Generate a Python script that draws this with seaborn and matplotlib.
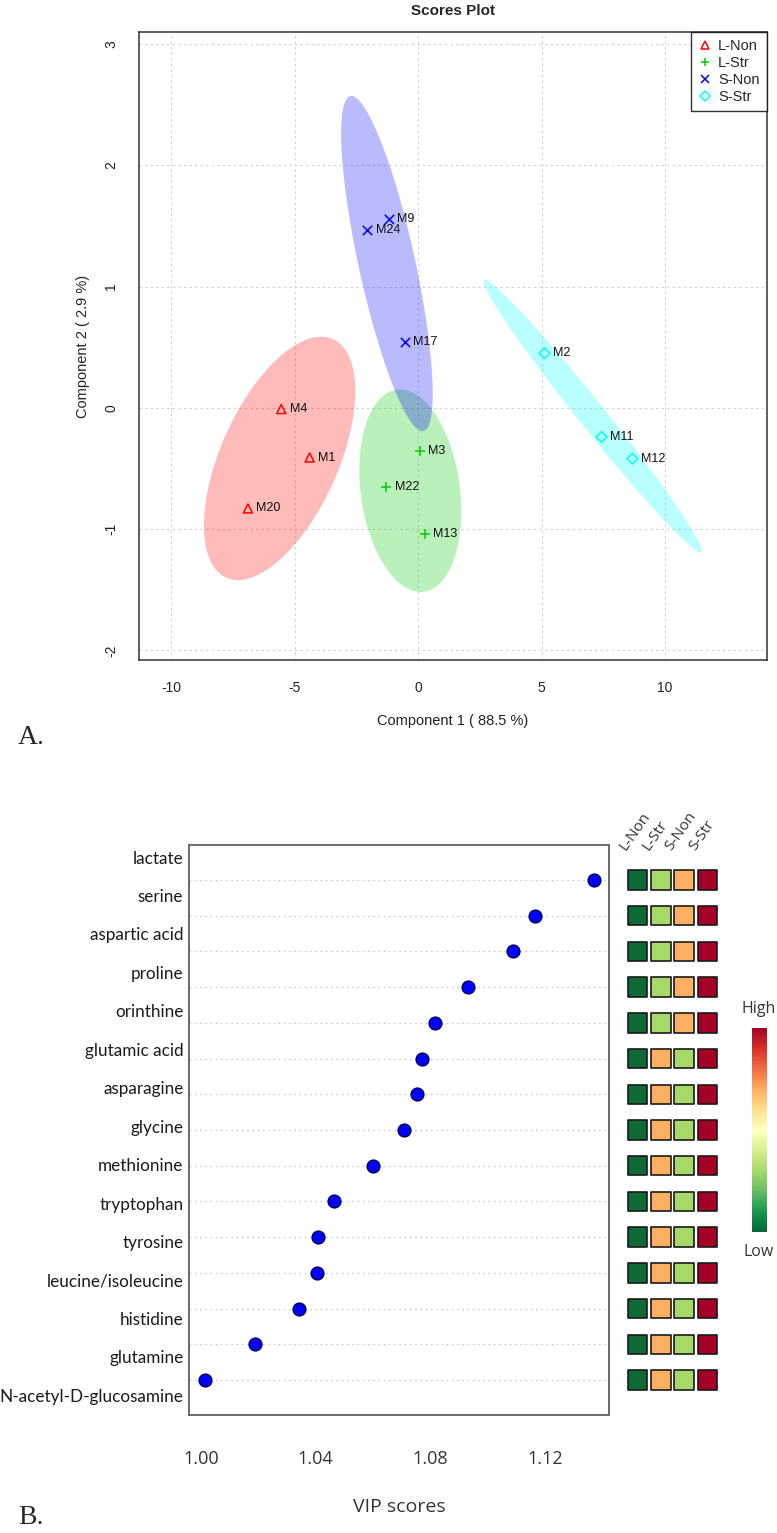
import numpy as np
import pandas as pd
import matplotlib
matplotlib.use("Agg")
import matplotlib.pyplot as plt
from matplotlib.lines import Line2D
from matplotlib.cm import ScalarMappable
import seaborn as sns

# ---- A. scores plot data
samples = ["M4", "M1", "M20", "M3", "M22", "M13", "M9", "M24", "M17", "M2", "M11", "M12"]
groups = ["L-Non"] * 3 + ["L-Str"] * 3 + ["S-Non"] * 3 + ["S-Str"] * 3
comp1 = [-5.54, -4.39, -6.89, 0.07, -1.28, 0.27, -1.19, -2.05, -0.54, 5.12, 7.43, 8.68]
comp2 = [-0.01, -0.41, -0.83, -0.36, -0.65, -1.04, 1.56, 1.47, 0.54, 0.45, -0.24, -0.42]
group_names = ["L-Non", "L-Str", "S-Non", "S-Str"]
group_colors = ["#FF0000", "#00CD00", "#0000FF", "#00FFFF"]
group_markers = ["^", "+", "x", "D"]

# ---- B. VIP scores data
compounds = ["lactate", "serine", "aspartic acid", "proline", "orinthine",
             "glutamic acid", "asparagine", "glycine", "methionine", "tryptophan",
             "tyrosine", "leucine/isoleucine", "histidine", "glutamine",
             "N-acetyl-D-glucosamine"]
vip = [1.137, 1.1165, 1.1087, 1.0932, 1.0815, 1.0771, 1.0753, 1.0710, 1.0599,
       1.0463, 1.0410, 1.0404, 1.0343, 1.0190, 1.0015]
heat_cols = ["L-Non", "L-Str", "S-Non", "S-Str"]
heat_lnon = [1, 1, 1, 1, 1, 1, 1, 1, 1, 1, 1, 1, 1, 1, 1]
heat_lstr = [2, 2, 2, 2, 2, 3, 3, 3, 3, 3, 3, 3, 3, 3, 3]
heat_snon = [3, 3, 3, 3, 3, 2, 2, 2, 2, 2, 2, 2, 2, 2, 2]
heat_sstr = [4, 4, 4, 4, 4, 4, 4, 4, 4, 4, 4, 4, 4, 4, 4]
heat_palette = {1: "#0F6B35", 2: "#A6D96A", 3: "#FDB061", 4: "#A50026"}

scores = pd.DataFrame({"sample": samples, "group": groups, "comp1": comp1, "comp2": comp2})

sns.set_style("white")
plt.rcParams["font.family"] = ["Liberation Sans", "DejaVu Sans"]
plt.rcParams["axes.unicode_minus"] = False

W, H = 777, 1533
fig = plt.figure(figsize=(W / 100, H / 100), dpi=100)

def box(l, t, r, b):
    return [l / W, 1 - b / H, (r - l) / W, (b - t) / H]

# ================= A. Scores plot =================
ax1 = fig.add_axes(box(139, 32, 767, 660))

# 95% confidence ellipses
t95 = np.sqrt(-2 * np.log(0.05))
theta = np.linspace(0, 2 * np.pi, 300)
circle = np.vstack([np.cos(theta), np.sin(theta)])
for g, col in zip(group_names, group_colors):
    xy = scores.loc[scores.group == g, ["comp1", "comp2"]].to_numpy()
    mu = xy.mean(axis=0)
    vals, vecs = np.linalg.eigh(np.cov(xy.T))
    ell = mu[:, None] + t95 * vecs @ (np.sqrt(vals)[:, None] * circle)
    ax1.fill(ell[0], ell[1], color=col, alpha=0.27, lw=0, zorder=1)

for g, col, m in zip(group_names, group_colors, group_markers):
    sub = scores[scores.group == g]
    if m in ("^", "D"):
        sns.scatterplot(data=sub, x="comp1", y="comp2", ax=ax1, marker=m,
                        s=42 if m == "^" else 30, color=col, facecolor="none",
                        edgecolor=col, linewidth=1.1, zorder=3)
    else:
        sns.scatterplot(data=sub, x="comp1", y="comp2", ax=ax1, marker=m,
                        s=45, color=col, linewidth=1.1, zorder=3)

for row in scores.itertuples():
    ax1.annotate(row.sample, (row.comp1, row.comp2), xytext=(6, 0),
                 textcoords="offset points", va="center", ha="left",
                 fontsize=9, color="#111111")

ax1.set_xlim(-11.3, 14.13)
ax1.set_ylim(-2.08, 3.1)
ax1.set_xticks([-10, -5, 0, 5, 10])
ax1.set_yticks([-2, -1, 0, 1, 2, 3])
ax1.set_yticklabels(["-2", "-1", "0", "1", "2", "3"], rotation=90, va="center")
ax1.grid(True, linestyle=(0, (2, 3)), color="#CFCFCF", lw=0.8)
for sp in ax1.spines.values():
    sp.set_visible(True)
    sp.set_color("#333333")
    sp.set_linewidth(1.1)
ax1.tick_params(direction="out", length=6, width=1, color="#333333",
                labelsize=10, labelcolor="#222222", pad=9)
ax1.set_xlabel("Component 1 ( 88.5 %)", fontsize=10.5, color="#222222", labelpad=14)
ax1.set_ylabel("Component 2 ( 2.9 %)", fontsize=10.5, color="#222222", labelpad=10)
ax1.set_title("Scores Plot", fontsize=11, fontweight="bold", pad=12)

handles = []
for g, col, m in zip(group_names, group_colors, group_markers):
    handles.append(Line2D([], [], linestyle="none", marker=m, color=col,
                          markerfacecolor="none", markersize=6 if m != "D" else 5,
                          markeredgewidth=1.1, label=g))
leg = ax1.legend(handles=handles, loc="upper right", borderaxespad=0, frameon=True,
                 fancybox=False, edgecolor="black", fontsize=10.5, handlelength=1,
                 handletextpad=0.4, labelspacing=0.2, borderpad=0.5)
leg.get_frame().set_linewidth(1)

fig.text(18 / W, 1 - 738 / H, "A.", fontsize=20, family="Liberation Serif", va="center")

# ================= B. VIP scores =================
rows = np.arange(len(compounds))
ax2 = fig.add_axes(box(189, 845, 609, 1415))
for r in rows:
    ax2.axhline(r, color="#C4C4C4", lw=0.9, linestyle=(0, (1.2, 3)), zorder=1)
sns.scatterplot(x=vip, y=rows, ax=ax2, color="#0000FF", edgecolor="#000055",
                s=85, linewidth=1, zorder=3)
ax2.set_ylim(14.98, -0.98)
ax2.set_xlim(0.9959, 1.1423)

# row labels sit on a slightly larger pitch than the rows, as in the figure
label_offset, label_step = -0.644, 1.0767
ax2.set_yticks(label_offset + label_step * rows)
ax2.set_yticklabels(compounds, family=["Lato", "DejaVu Sans"], fontsize=12.3,
                    color="#1a1a1a")
xt = np.round(np.arange(1.00, 1.1401, 0.02), 2)
ax2.set_xticks(xt)
ax2.set_xticklabels([f"{v:.2f}" if i % 2 == 0 else "" for i, v in enumerate(xt)],
                    family=["Open Sans", "DejaVu Sans"], fontsize=13, color="#333333")
ax2.tick_params(axis="y", length=0, pad=4)
ax2.tick_params(axis="x", direction="out", length=9, width=1.2, color="#444444", pad=16)
for sp in ax2.spines.values():
    sp.set_visible(True)
    sp.set_color("#6A6A6A")
    sp.set_linewidth(1.4)
ax2.set_xlabel("VIP scores", family=["Open Sans", "DejaVu Sans"], fontsize=14,
               color="#333333", labelpad=22)
ax2.set_ylabel("")

# heat squares
heat = pd.DataFrame({
    "col": np.repeat(np.arange(4), len(compounds)),
    "row": np.tile(rows, 4),
    "level": heat_lnon + heat_lstr + heat_snon + heat_sstr,
})
ax3 = fig.add_axes(box(626, 845, 719, 1415))
sns.scatterplot(data=heat, x="col", y="row", hue="level", palette=heat_palette,
                marker="s", s=195, edgecolor="#1a1a1a", linewidth=1.2,
                legend=False, ax=ax3)
ax3.set_xlim(-0.5, 3.5)
ax3.set_ylim(14.98, -0.98)
ax3.axis("off")
for i, name in enumerate(heat_cols):
    ax3.text(i - 0.4, -0.75, name, rotation=55, rotation_mode="anchor",
             ha="left", va="bottom", fontsize=11, color="#333333",
             family=["Open Sans", "DejaVu Sans"])

# color key
cax = fig.add_axes(box(752, 1028, 767, 1232))
cb = fig.colorbar(ScalarMappable(cmap="RdYlGn_r"), cax=cax)
cb.set_ticks([])
cb.outline.set_visible(False)
fig.text(759 / W, 1 - 1009 / H, "High", ha="center", va="center", fontsize=11.5,
         color="#333333", family=["Open Sans", "DejaVu Sans"])
fig.text(759 / W, 1 - 1252 / H, "Low", ha="center", va="center", fontsize=11.5,
         color="#333333", family=["Open Sans", "DejaVu Sans"])

fig.text(18 / W, 1 - 1518 / H, "B.", fontsize=20, family="Liberation Serif", va="center")

fig.savefig("out.png", dpi=100, facecolor="white")
